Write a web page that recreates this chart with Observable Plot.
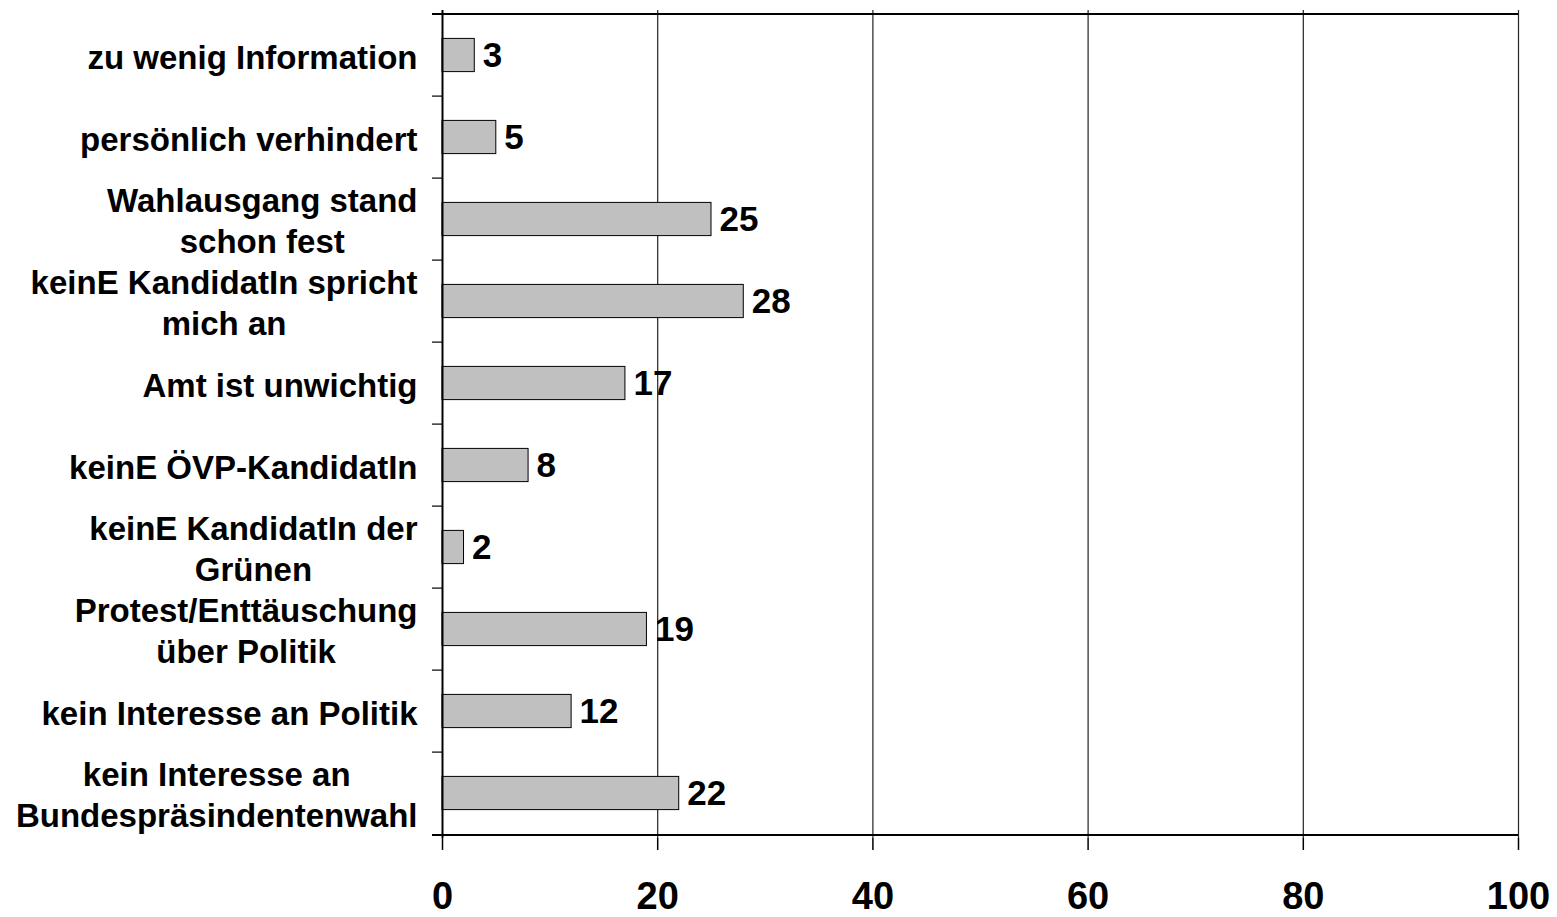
<!DOCTYPE html>
<html><head><meta charset="utf-8">
<script src="https://cdn.jsdelivr.net/npm/d3@7"></script>
<script src="https://cdn.jsdelivr.net/npm/@observablehq/plot@0.6"></script>
<style>html,body{margin:0;padding:0;background:#fff}</style>
</head><body><div id="chart"></div>
<script>
// ---- data ----
const labelLines = [
  ["zu wenig Information"],
  ["persönlich verhindert"],
  ["Wahlausgang stand", "schon fest"],
  ["keinE KandidatIn spricht", "mich an"],
  ["Amt ist unwichtig"],
  ["keinE ÖVP-KandidatIn"],
  ["keinE KandidatIn der", "Grünen"],
  ["Protest/Enttäuschung", "über Politik"],
  ["kein Interesse an Politik"],
  ["kein Interesse an", "Bundespräsindentenwahl"]
];
const categories = labelLines.map(l => l.join(" "));
const values = [3, 5, 25, 28, 17, 8, 2, 19, 12, 22];
const xTicks = [0, 20, 40, 60, 80, 100];
const gridValues = [20, 40, 60, 80, 100];

const data = categories.map((c, i) => ({category: c, value: values[i]}));

// ---- layout ----
const W = 1557, H = 917;
const mL = 442, mR = 39, mT = 10, mB = 79;
const step = (H - mT - mB) / categories.length;
const pxPerUnit = (W - mL - mR) / 100;
const tickLen = 10 / pxPerUnit;
const barInset = (step - 34) / 2;
const font = "Arial, 'Liberation Sans', sans-serif";
const labelSize = 33;

const ctx = document.createElement("canvas").getContext("2d");
ctx.font = `bold ${labelSize}px 'Liberation Sans', Arial, sans-serif`;

const labelMarks = labelLines.map((lines, i) => {
  const maxW = Math.max(...lines.map(t => ctx.measureText(t).width));
  return Plot.text([categories[i]], {
    y: d => d, frameAnchor: "left", textAnchor: "middle",
    dx: -25 - maxW / 2, text: () => lines.join("\n"),
    lineHeight: 1.25, fontSize: labelSize, fontWeight: "bold", fill: "#000"
  });
});

const inner = categories.slice(1);

const chart = Plot.plot({
  width: W, height: H,
  marginLeft: mL, marginRight: mR, marginTop: mT, marginBottom: mB,
  style: {fontFamily: font, color: "#000", background: "#fff", overflow: "visible"},
  x: {domain: [0, 100]},
  y: {domain: categories, padding: 0, axis: null},
  marks: [
    Plot.ruleX(gridValues, {stroke: "#222", strokeWidth: 1.2}),
    Plot.ruleY([categories[0]], {y: d => d, x1: -tickLen, x2: 100, dy: -step / 2, stroke: "#000", strokeWidth: 2}),
    Plot.ruleY([categories[categories.length - 1]], {y: d => d, x1: -tickLen, x2: 100, dy: step / 2, stroke: "#000", strokeWidth: 2}),
    Plot.ruleY(inner, {y: d => d, x1: -tickLen, x2: 0, dy: -step / 2, stroke: "#000", strokeWidth: 1.2}),
    Plot.barX(data, {x: "value", y: "category", fill: "#c0c0c0", stroke: "#000", strokeWidth: 1, insetTop: barInset, insetBottom: barInset}),
    Plot.ruleX([0], {stroke: "#000", strokeWidth: 2}),
    Plot.text(data, {x: "value", y: "category", text: d => String(d.value), textAnchor: "start", dx: 8, fontSize: 35, fontWeight: "bold", fill: "#000"}),
    Plot.axisX({ticks: xTicks, label: null, tickSize: 12, tickPadding: 32, fontSize: 38, fontWeight: "bold", stroke: "#000", strokeWidth: 1.5, tickFormat: d => String(d)}),
    ...labelMarks
  ]
});
document.getElementById("chart").appendChild(chart);
</script>
</body></html>
